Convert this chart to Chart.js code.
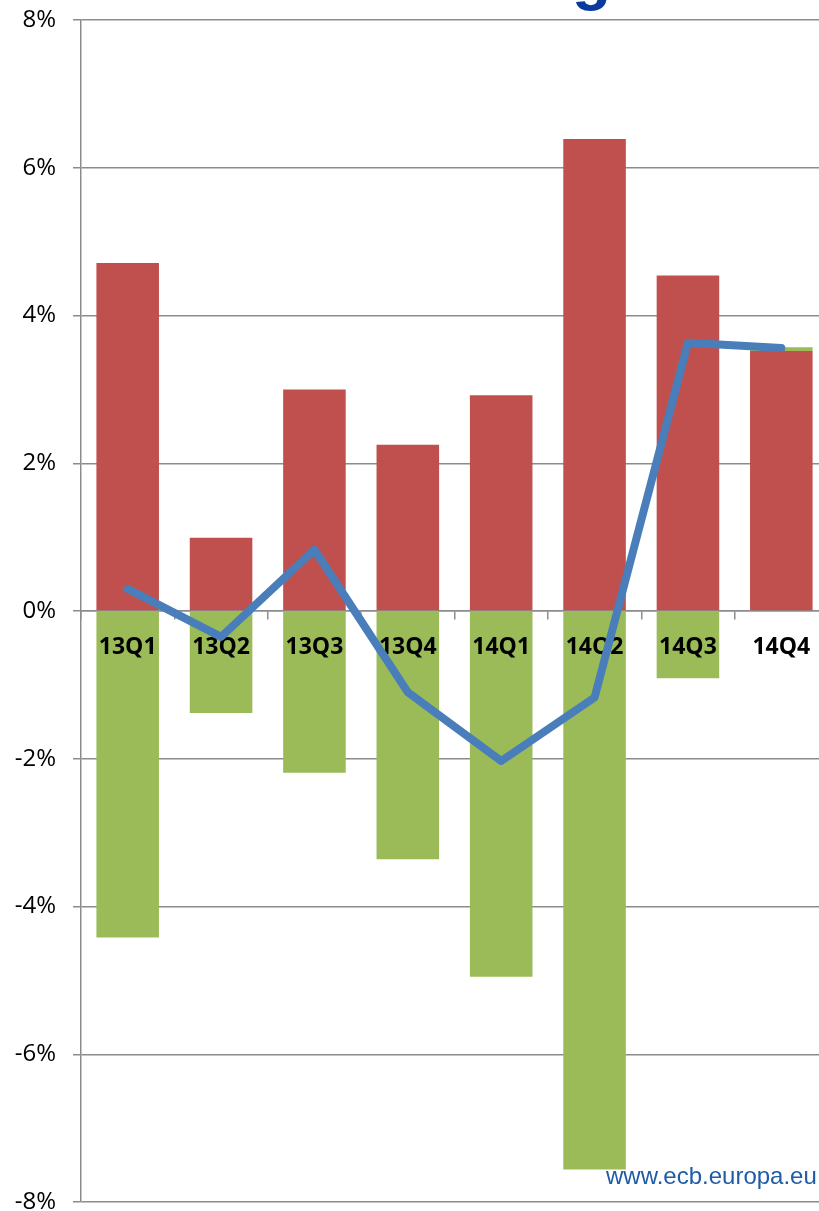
<!DOCTYPE html>
<html>
<head>
<meta charset="utf-8">
<script src="https://cdn.jsdelivr.net/npm/chart.js@4/dist/chart.umd.min.js"></script>
<style>
  html, body { margin: 0; padding: 0; background: #ffffff; overflow: hidden; }
  #wrap { position: relative; width: 819px; height: 1211px; overflow: hidden; }
  #chart { position: absolute; left: 0; top: 0; }
  #heading {
    position: absolute; left: 572px; top: -56px;
    font: bold 64px "Liberation Sans", Arial, sans-serif; line-height: 64px;
    color: #0a3a9c; white-space: nowrap;
  }
  #source {
    position: absolute; left: 606px; top: 1164px;
    font: 24px "Liberation Sans", Arial, sans-serif; line-height: 24px;
    color: #1f5ca8; white-space: nowrap;
  }
</style>
</head>
<body>
<div id="wrap">
  <canvas id="chart" width="828" height="1211"></canvas>
  <div id="heading">g</div>
  <div id="source">www.ecb.europa.eu</div>
</div>
<script>
// Quarters shown on the horizontal axis
const quarters = ['13Q1', '13Q2', '13Q3', '13Q4', '14Q1', '14Q2', '14Q3', '14Q4'];

// Positive contribution (red bars), %
const positivePart = [4.71, 0.99, 3.00, 2.25, 2.92, 6.39, 4.54, 3.52];

// Negative contribution (green bars), %
const negativePart = [-4.42, -1.38, -2.19, -3.36, -4.95, -7.56, -0.91, 0.05];

// Net change (blue line), %
const netChange = [0.30, -0.35, 0.83, -1.10, -2.03, -1.17, 3.63, 3.56];

// Vertical axis range and step, %
const yMin = -8;
const yMax = 8;
const yStep = 2;

const GRID = '#8c8c8c';

// Quarter labels sit just under the zero line, above the bars but under the line
const quarterLabels = {
  id: 'quarterLabels',
  beforeDatasetDraw(chart, args) {
    if (args.meta.type !== 'line') return;
    const ctx = chart.ctx;
    const xs = chart.scales.x;
    const ys = chart.scales.y;
    const base = ys.getPixelForValue(0) + 43;
    ctx.save();
    ctx.font = 'bold 23px "Open Sans", sans-serif';
    ctx.fillStyle = '#000000';
    ctx.textAlign = 'center';
    ctx.textBaseline = 'alphabetic';
    xs.getLabels().forEach((lab, i) => {
      ctx.fillText(lab, xs.getPixelForValue(i), base);
    });
    ctx.restore();
  }
};

new Chart(document.getElementById('chart'), {
  data: {
    labels: quarters,
    datasets: [
      {
        type: 'line',
        data: netChange,
        borderColor: '#4a7ebb',
        borderWidth: 8,
        borderCapStyle: 'round',
        borderJoinStyle: 'round',
        pointRadius: 0,
        tension: 0,
        fill: false,
        stack: 'net',
        order: 0
      },
      {
        type: 'bar',
        data: positivePart,
        backgroundColor: '#c0504d',
        borderWidth: 0,
        barPercentage: 0.67,
        categoryPercentage: 1,
        stack: 'parts',
        order: 1
      },
      {
        type: 'bar',
        data: negativePart,
        backgroundColor: '#9bbb59',
        borderWidth: 0,
        barPercentage: 0.67,
        categoryPercentage: 1,
        stack: 'parts',
        order: 2
      }
    ]
  },
  options: {
    responsive: false,
    animation: false,
    layout: { padding: { top: 20, right: 0, bottom: 9, left: 0 } },
    plugins: {
      legend: { display: false },
      tooltip: { enabled: false },
      title: { display: false }
    },
    scales: {
      x: {
        type: 'category',
        stacked: true,
        position: { y: 0 },
        offset: true,
        grid: {
          offset: true,
          drawOnChartArea: false,
          drawTicks: true,
          tickLength: 8,
          color: GRID,
          lineWidth: 1.5
        },
        border: { display: true, color: GRID, width: 1.5 },
        ticks: { display: false }
      },
      y: {
        stacked: true,
        min: yMin,
        max: yMax,
        ticks: {
          stepSize: yStep,
          padding: 17,
          color: '#000000',
          font: { family: '"Open Sans", sans-serif', size: 24 },
          callback: v => v + '%'
        },
        grid: { color: GRID, lineWidth: 1.5, tickLength: 8 },
        border: { display: true, color: GRID, width: 1.5 },
        afterFit(scale) {
          scale.width = 81;
          scale.paddingTop = 0;
          scale.paddingBottom = 0;
        }
      }
    }
  },
  plugins: [quarterLabels]
});
</script>
</body>
</html>
